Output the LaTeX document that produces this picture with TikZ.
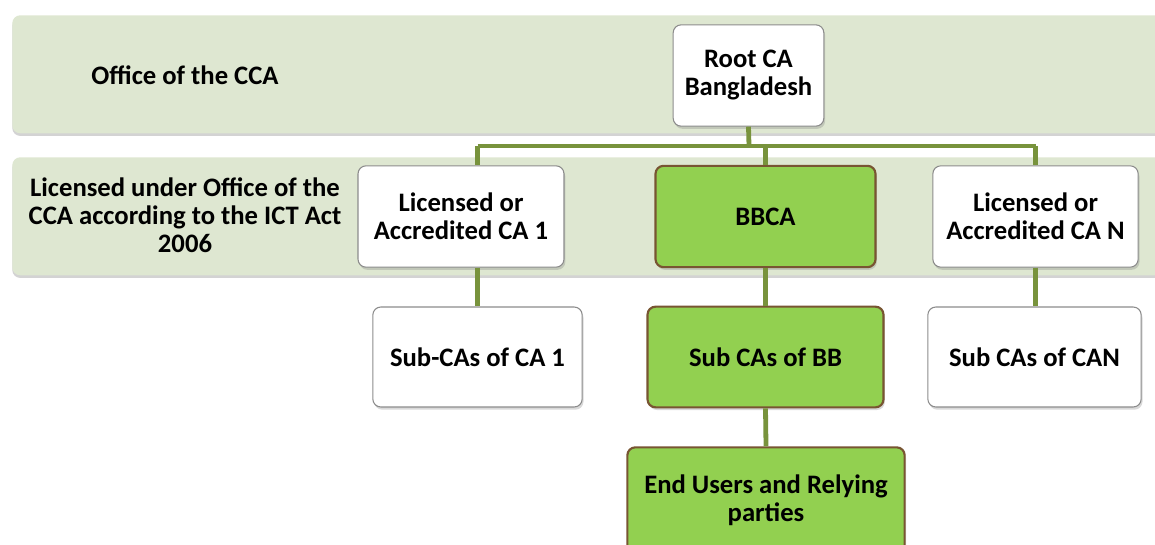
\documentclass[tikz,border=0pt]{standalone}
\usepackage{fontspec}
\setmainfont{Carlito}
\usetikzlibrary{shadows}
\definecolor{cBand} {RGB}{222, 231, 209}
\definecolor{cLink} {RGB}{120, 147,  60}
\definecolor{cBB}   {RGB}{146, 208,  80}
\definecolor{cBBrd} {RGB}{120,  85,  50}
\definecolor{cEdge} {RGB}{140, 140, 140}
\tikzset{
  band/.style  = {fill=cBand, draw=none, rounded corners=6pt,
                  drop shadow={shadow xshift=0pt, shadow yshift=-2pt, opacity=.35}},
  B/.style     = {rounded corners=6pt, align=center, inner sep=2pt,
                  font=\fontsize{20}{21}\selectfont\bfseries,
                  drop shadow={shadow xshift=1pt, shadow yshift=-2pt, opacity=.3}},
  caW/.style   = {B, fill=white, draw=cEdge, line width=0.8pt},
  caG/.style   = {B, fill=cBB, draw=cBBrd, line width=1.6pt},
  lbl/.style   = {align=center, font=\fontsize{20}{21}\selectfont\bfseries},
  link/.style  = {cLink, line width=3.6pt},
}

\begin{document}
\begin{tikzpicture}[x=0.75pt, y=-0.75pt]

\useasboundingbox (0,0) rectangle (1155,545);

%% ─── bands ───────────────────────────────────────────────────────
\node[band, minimum width=870pt, minimum height=88.5pt, anchor=north west]
  (bandO) at (12,15) {};
\node[band, minimum width=870pt, minimum height=88.5pt, anchor=north west]
  (bandL) at (12,157) {};

\node[lbl] (lO) at (185,75) {Office of the CCA};
\node[lbl] (lL) at (185,215)
  {Licensed under Office of the\\CCA according to the ICT Act\\2006};

%% ─── CA nodes ────────────────────────────────────────────────────
\node[caW, minimum width=113pt, minimum height=76pt] (root) at (748.5,75.5)
  {Root CA\\Bangladesh};

\node[caW, minimum width=154.5pt, minimum height=76pt] (ca1) at (461,216.5)
  {Licensed or\\Accredited CA 1};
\node[caG, minimum width=165pt, minimum height=76pt] (bbca) at (765.5,216.5)
  {BBCA};
\node[caW, minimum width=154pt, minimum height=76pt] (caN) at (1035.5,216.5)
  {Licensed or\\Accredited CA N};

\node[caW, minimum width=157pt, minimum height=75pt] (sub1) at (477.5,357)
  {Sub-CAs of CA 1};
\node[caG, minimum width=177pt, minimum height=75.5pt] (subBB) at (765.5,357)
  {Sub CAs of BB};
\node[caW, minimum width=160pt, minimum height=75pt] (subN) at (1034.5,357)
  {Sub CAs of CAN};

\node[caG, minimum width=208pt, minimum height=79pt] (endU) at (766,500)
  {End Users and Relying\\parties};

%% ─── links ───────────────────────────────────────────────────────
\coordinate (bus) at (749,146);

\draw[link] (root.south) -- (bus);
\draw[link] (sub1.north |- bus) -- (caN.north |- bus);
\draw[link] (sub1.north |- bus) -- (sub1.north |- ca1.north);
\draw[link] (bbca.north |- bus) -- (bbca.north);
\draw[link] (caN.north |- bus) -- (caN.north);

\draw[link] (sub1.north |- ca1.south) -- (sub1.north);
\draw[link] (bbca.south) -- (subBB.north);
\draw[link] (caN.south) -- (caN.south |- subN.north);
\draw[link] (subBB.south) -- (endU.north);

\end{tikzpicture}
\end{document}
